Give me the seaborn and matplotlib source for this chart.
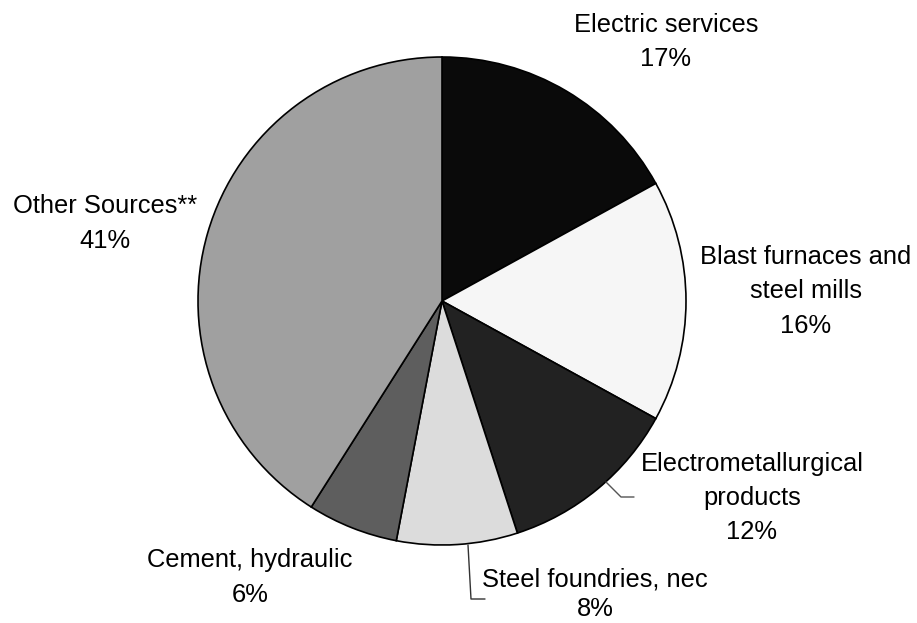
import numpy as np
import seaborn as sns
from matplotlib import pyplot as plt

# share of emissions by source category
categories = ["Electric services", "Blast furnaces and\nsteel mills", "Electrometallurgical\nproducts",
              "Steel foundries, nec", "Cement, hydraulic", "Other Sources**"]
shares = [17, 16, 12, 8, 6, 41]
slice_colors = ["#0a0a0a", "#f6f6f6", "#222222", "#dcdcdc", "#5e5e5e", "#a0a0a0"]

W, H = 917, 623

sns.set_style("white")
plt.rcParams['font.family'] = ['Liberation Sans', 'DejaVu Sans']

fig = plt.figure(figsize=(W / 100, H / 100), dpi=100)
ax = fig.add_axes([0, 0, 1, 1])

def py(y):
    # pixel row -> data y
    return H - y

ax.pie(shares, colors=sns.color_palette(slice_colors), startangle=90, counterclock=False,
       center=(442, py(301)), radius=244,
       wedgeprops=dict(edgecolor="black", linewidth=1.2))

ax.set_xlim(0, W)
ax.set_ylim(0, H)
ax.set_aspect("equal")
ax.axis("off")

# label anchors: centre x, first baseline, line step (pixels)
anchors = [(666, 32, 34), (806, 264, 34.5), (752, 471, 34), (595, 586, 30), (250, 567, 34.5), (105, 213, 34.5)]
for cat, val, (x, y0, step) in zip(categories, shares, anchors):
    lines = cat.split("\n") + [f"{val}%"]
    for i, line in enumerate(lines):
        ax.text(x, py(y0 + i * step), line, ha="center", va="baseline", fontsize=18.4, color="black")

# leader lines
ax.plot([606, 621, 634], [py(482), py(497), py(497)], color="#555555", lw=1)
ax.plot([468, 471, 485], [py(545), py(599), py(599)], color="#333333", lw=1)

fig.savefig("out.png", dpi=100)
